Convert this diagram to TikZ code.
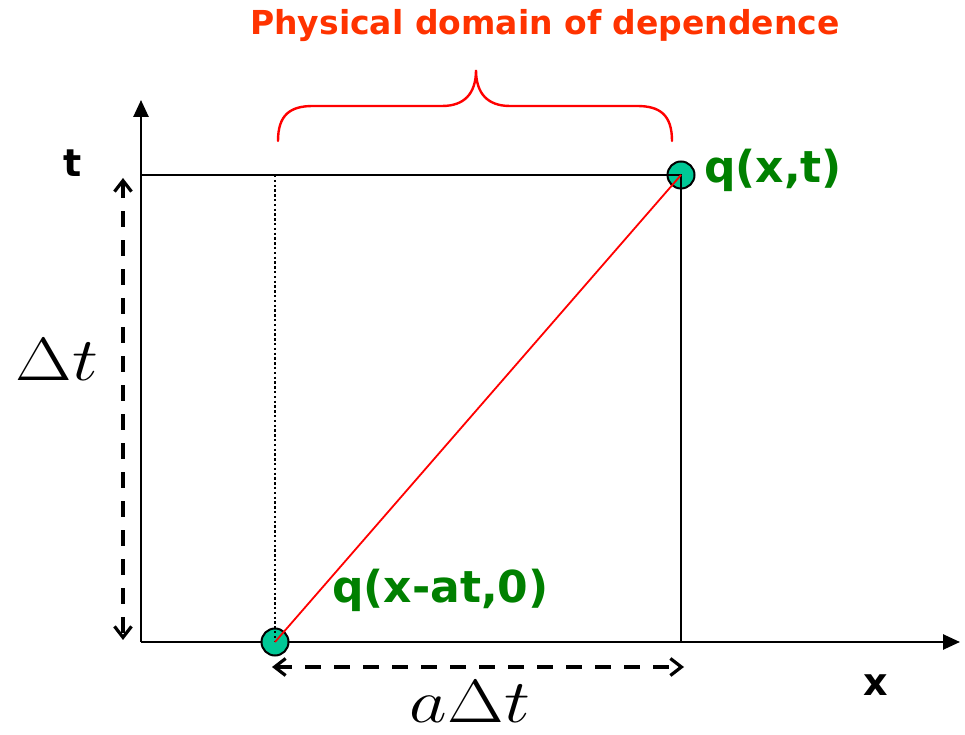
\RequirePackage{fix-cm}
\documentclass[tikz,border=0pt]{standalone}
\usepackage{fontspec}
\setsansfont{DejaVu Sans}
\usetikzlibrary{arrows.meta}
\definecolor{titlered}{RGB}{255,51,0}
\definecolor{qgreen}{RGB}{0,128,0}
\definecolor{dotfill}{RGB}{0,200,150}
\definecolor{bracered}{RGB}{255,0,0}
\begin{document}
\begin{tikzpicture}[x=1pt,y=1pt,
  axis/.style={line width=2.6pt,-{Triangle[length=17pt,width=15pt]}},
  frameline/.style={line width=2.6pt},
  dotline/.style={line width=2.4pt,dash pattern=on 2.4pt off 2.4pt},
  measure/.style={line width=3.5pt,dash pattern=on 16pt off 13pt,
    {Straight Barb[length=11pt,width=17pt,line width=3.2pt]}-{Straight Barb[length=11pt,width=17pt,line width=3.2pt]}},
  dotnode/.style={circle,draw=black,line width=2pt,fill=dotfill,minimum size=27pt,inner sep=0pt},
  lab/.style={font=\sffamily\bfseries\fontsize{38}{44}\selectfont,inner sep=0pt},
  qlab/.style={font=\sffamily\bfseries\fontsize{44}{50}\selectfont,text=qgreen,inner sep=0pt},
  titlelab/.style={font=\sffamily\bfseries\fontsize{33}{40}\selectfont,text=titlered,inner sep=0pt},
  mathlab/.style={font=\fontsize{61}{70}\selectfont,inner sep=0pt}]
\useasboundingbox (0,0) rectangle (965,735);
% named points
\coordinate (O) at (141,93);
\coordinate (ytip) at (141,635);
\coordinate (xtip) at (960,93);
\coordinate (TL) at (141,560);
\coordinate (BR) at (681,93);
\coordinate (DT) at (275,560);
\coordinate (vA) at (123,557);
\coordinate (vB) at (123,95);
\coordinate (hA) at (272,68);
\coordinate (hB) at (684,68);
% axes
\draw[axis] (O) -- (ytip);
\draw[axis] (O) -- (xtip);
% dots
\node[dotnode] (top) at (681,560) {};
\node[dotnode] (bot) at (275,93) {};
% frame
\draw[frameline] (TL) -- (top.center) -- (BR);
\draw[dotline] (DT) -- (bot.center);
\draw[red,line width=1.8pt] (bot.center) -- (top.center);
% measures
\draw[measure] (vA) -- (vB);
\draw[measure] (hA) -- (hB);
% brace
\draw[bracered,line width=2.4pt,line cap=round]
  (278,594) .. controls (278,620) and (290,629) .. (313,629) -- (442,629)
  .. controls (464,629) and (476,641) .. (476,665)
  .. controls (476,641) and (488,629) .. (510,629) -- (637,629)
  .. controls (660,629) and (672,620) .. (672,594);
% labels
\node[titlelab] (title) at (545,709) {Physical domain of dependence};
\node[lab] (tlab) at (73,572) {t};
\node[lab] (xlab) at (876,50) {x};
\node[qlab,anchor=west] (qtop) at (704,565) {q(x,t)};
\node[qlab,anchor=west] (qbot) at (332,145) {q(x-at,0)};
\node[mathlab,anchor=base] (dtlab) at (57,354) {\scalebox{1.2}[1]{$\Delta t$}};
\node[mathlab,anchor=base] (adtlab) at (470,12) {\scalebox{1.2}[1]{$a\Delta t$}};
\end{tikzpicture}
\end{document}
